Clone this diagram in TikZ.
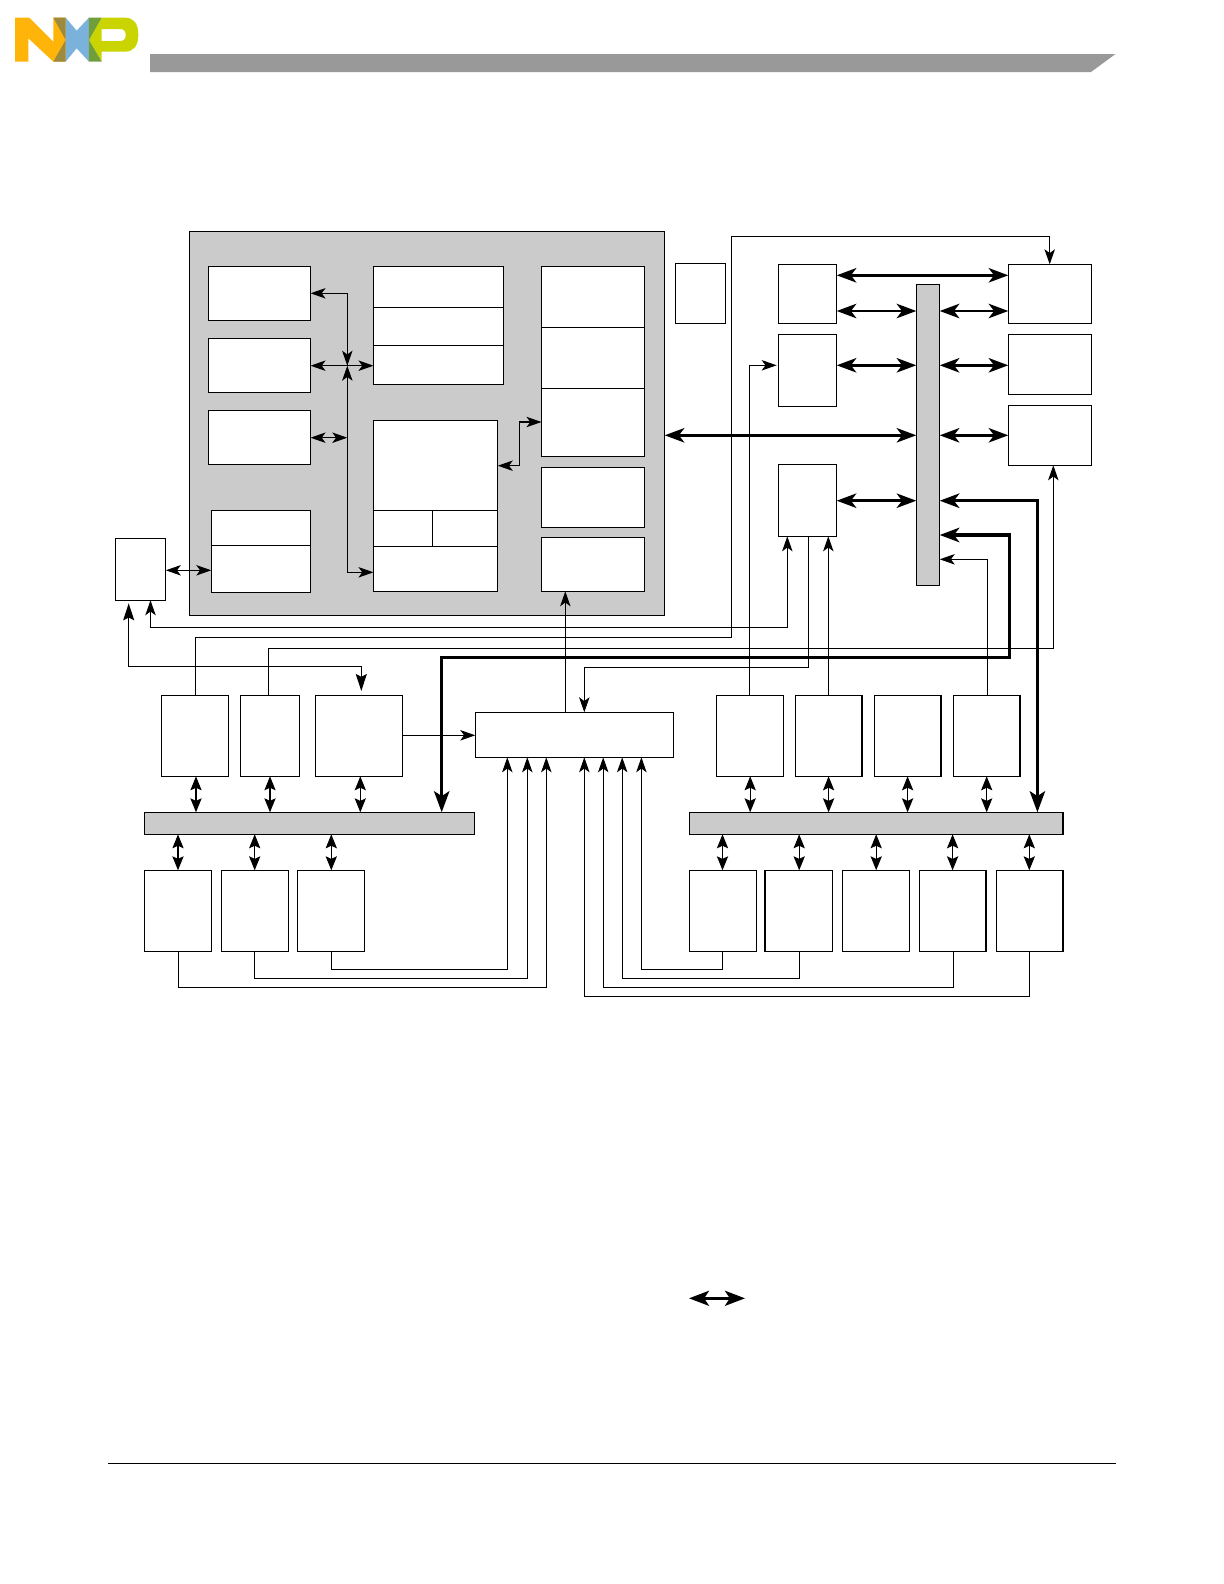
\documentclass[tikz,border=0pt]{standalone}
\usetikzlibrary{arrows.meta}
\definecolor{panelgrey}{HTML}{CBCBCB}
\definecolor{bargrey}{HTML}{999999}
\definecolor{nxpy}{HTML}{FFB40A}
\definecolor{nxpo}{HTML}{9C8A3E}
\definecolor{nxpb}{HTML}{7BB2DC}
\definecolor{nxpg}{HTML}{6F9E3A}
\definecolor{nxpl}{HTML}{C9D400}
\tikzset{
  tipS/.tip={Stealth[length=7.5bp,width=5.2bp,inset=1.9bp]},
  tipV/.tip={Stealth[length=7bp,width=5.6bp,inset=1.3bp]},
  tipB/.tip={Stealth[length=9.8bp,width=7.2bp,inset=2.7bp]},
  tipC/.tip={Stealth[length=10.5bp,width=7.6bp,inset=2.4bp]},
  tipH/.tip={Stealth[length=8.5bp,width=5.5bp,inset=1.4bp]},
  box/.style={draw=black,fill=white,line width=0.55bp,inner sep=0pt,outer sep=0pt},
  greybox/.style={box,fill=panelgrey},
  thinln/.style={line width=0.55bp,draw=black},
  thickln/.style={line width=1.45bp,draw=black},
  heavyln/.style={line width=1.75bp,draw=black},
  twoS/.style={thinln,{tipS}-{tipS}},
  oneS/.style={thinln,-{tipS}},
  twoV/.style={thinln,{tipV}-{tipV}},
  twoB/.style={thickln,{tipB}-{tipB}},
  twoC/.style={heavyln,{tipB}-{tipC}}
}
\newcommand{\bx}[6][box]{%
  \pgfmathsetmacro\bxcx{(#3+#5)/2}\pgfmathsetmacro\bxcy{(#4+#6)/2}%
  \pgfmathsetmacro\bxw{(#5-#3)*0.5}\pgfmathsetmacro\bxh{(#6-#4)*0.5}%
  \node[#1,minimum width=\bxw bp,minimum height=\bxh bp] (#2) at (\bxcx,\bxcy) {};}
\begin{document}
\begin{tikzpicture}[x=0.5bp,y=-0.5bp]
\fill[white] (0,0) rectangle (1224,1584);
\useasboundingbox (0,0) rectangle (1224,1584);
% logo
\begin{scope}[shift={(10,10)},x=0.16667bp,y=-0.16667bp]
\fill[nxpy] (15,23)--(58,23)--(130,95)--(130,23)--(167,23)--(167,155)--(130,155)--(55,85)--(55,155)--(15,155)--cycle;
\fill[nxpb] (167,23)--(200,62)--(237,23)--(237,155)--(200,115)--(167,155)--(167,90)--cycle;
\fill[nxpo] (130,23)--(167,23)--(167,90)--cycle;
\fill[nxpo] (130,155)--(167,90)--(167,155)--cycle;
\fill[nxpl,even odd rule] (237,90)--(275,23)--(345,23).. controls (372,23) and (385,42) .. (385,74).. controls (385,106) and (372,125) .. (345,125)--(275,125)--(275,155)--cycle
  (275,57)--(330,57).. controls (342,57) and (347,64) .. (347,75).. controls (347,87) and (342,93) .. (330,93)--(275,93)--cycle;
\fill[nxpg] (237,23)--(275,23)--(237,90)--cycle;
\fill[nxpg] (237,90)--(275,155)--(237,155)--cycle;
\end{scope}
% header and footer
\fill[bargrey] (150,54)--(1115.5,54)--(1091,72)--(150,72)--cycle;
\draw[line width=0.5bp,draw=black] (108,1463.4)--(1116,1463.4);
% main panel
\bx[greybox]{panel}{189.5}{231.3}{664.7}{615.7}
\bx{Lone}{208.4}{266.3}{310.5}{320.3}
\bx{Ltwo}{208.4}{338.3}{310.5}{392.3}
\bx{Lthree}{208.4}{410.3}{310.5}{464.3}
\bx{Lfoura}{211.3}{510.3}{310.5}{545.3}
\bx{Lfourb}{211.3}{545.3}{310.5}{592.3}
\bx{Ma}{373.5}{266.3}{503.6}{307.3}
\bx{Mb}{373.5}{307.3}{503.6}{345.3}
\bx{Mc}{373.5}{345.3}{503.6}{384.3}
\bx{Na}{373.5}{420.3}{497.8}{510.3}
\bx{Nb}{373.5}{510.3}{432.4}{546.3}
\bx{Nc}{432.4}{510.3}{497.8}{546.3}
\bx{Nd}{373.5}{546.3}{497.8}{591.3}
\bx{Ra}{541.5}{266.3}{644.7}{327.3}
\bx{Rb}{541.5}{327.3}{644.7}{388.3}
\bx{Rc}{541.5}{388.3}{644.7}{456.3}
\bx{Rd}{541.5}{467.3}{644.7}{527.3}
\bx{Re}{541.5}{537.3}{644.7}{591.3}
\bx{small}{115.3}{538.3}{165.8}{600.3}
% upper right
\bx{Aone}{675.3}{263.3}{725.7}{323.3}
\bx{Bone}{778.3}{264.3}{836.7}{323.3}
\bx{Btwo}{778.3}{334.3}{836.7}{406.3}
\bx{Bthree}{778.3}{464.3}{836.7}{536.3}
\bx[greybox]{vbus}{916.3}{284.3}{939.7}{585.3}
\bx{Cone}{1008.3}{264.3}{1091.7}{323.3}
\bx{Ctwo}{1008.3}{334.3}{1091.7}{394.3}
\bx{Cthree}{1008.3}{405.3}{1091.7}{465.3}
% lower rows
\bx{Pone}{161.3}{695.3}{228.3}{776.3}
\bx{Ptwo}{240.3}{695.3}{299.3}{776.3}
\bx{Pthree}{315.3}{695.3}{402.3}{776.3}
\bx{wide}{475.3}{712.3}{673.5}{757.3}
\bx{Sone}{716.4}{695.3}{783.3}{776.3}
\bx{Stwo}{795.1}{695.3}{862}{776.3}
\bx{Sthree}{874.2}{695.3}{941}{776.3}
\bx{Sfour}{953.2}{695.3}{1020}{776.3}
\bx[greybox]{busL}{144.3}{812.3}{474.7}{834.3}
\bx[greybox]{busR}{689.4}{812.3}{1063}{834.3}
\bx{Qone}{144.3}{870.3}{211.3}{951.3}
\bx{Qtwo}{221.3}{870.3}{288.3}{951.3}
\bx{Qthree}{297.3}{870.3}{364.3}{951.3}
\bx{Tone}{689.4}{870.3}{756.3}{951.3}
\bx{Ttwo}{765}{870.3}{832.3}{951.3}
\bx{Tthree}{842.1}{870.3}{909.3}{951.3}
\bx{Tfour}{919.1}{870.3}{986}{951.3}
\bx{Tfive}{996.1}{870.3}{1063}{951.3}
% connectors inside the panel
\coordinate (jv) at (347.3,365.7);
\draw[oneS] (jv) |- (Lone.east |- 0,293.3);
\draw[oneS] (jv |- 0,293.3) -- (jv);
\draw[twoS] (Ltwo.east |- jv) -- (Mc.west |- jv);
\draw[twoS] (Nd.west |- 0,572.3) -| (jv);
\draw[twoS] (Lthree.east |- 0,437.7) -- (jv |- 0,437.7);
\draw[twoS] (Na.east |- 0,465.7) -- (519.6,465.7) -- (519.6,422) -- (Rc.west |- 0,422);
\draw[twoS] (small.east |- 0,570.3) -- (Lfourb.west |- 0,570.3);
\draw[oneS] (wide.north -| 565.3,0) -- (Re.south -| 565.3,0);
% thin routes
\draw[oneS] (Pone.north -| 195.3,0) -- (195.3,637.3) -- (731.3,637.3) -- (731.3,236.3) -- (1049.7,236.3) -- (Cone.north -| 1049.7,0);
\draw[oneS] (Ptwo.north -| 268.3,0) -- (268.3,648.3) -- (1053.3,648.3) -- (Cthree.south -| 1053.3,0);
\draw[oneS] (Sone.north -| 749.3,0) -- (749.3,365.3) -- (776.7,365.3);
\draw[oneS] (Stwo.north -| 828.3,0) -- (Bthree.south -| 828.3,0);
\draw[oneS] (Sfour.north -| 987.3,0) -- (987.3,559.3) -- (vbus.east |- 0,559.3);
\draw[twoS] (small.south -| 150.5,0) -- (150.5,627.3) -- (787.3,627.3) -- (Bthree.south -| 787.3,0);
\draw[oneS] (Bthree.south -| 808.3,0) -- (808.3,667.3) -- (584.3,667.3) -- (wide.north -| 584.3,0);
\draw[thinln,{tipH}-{tipH}] (128.7,603.3) -- (128.7,666.3) -- (361.3,666.3) -- (361.3,691);
\draw[oneS] (Pthree.east |- 0,735.3) -- (wide.west |- 0,735.3);
% bus stubs
\foreach \nm/\xx in {Pone/196,Ptwo/270,Pthree/360.3}
  \draw[twoV] (\nm.south -| \xx,0) -- (busL.north -| \xx,0);
\foreach \nm/\xx in {Qone/178,Qtwo/254.7,Qthree/331.3}
  \draw[twoV] (busL.south -| \xx,0) -- (\nm.north -| \xx,0);
\foreach \nm/\xx in {Sone/750.2,Stwo/828.6,Sthree/907.6,Sfour/986.7}
  \draw[twoV] (\nm.south -| \xx,0) -- (busR.north -| \xx,0);
\foreach \nm/\xx in {Tone/722.5,Ttwo/799.2,Tthree/876.2,Tfour/952.6,Tfive/1029.3}
  \draw[twoV] (busR.south -| \xx,0) -- (\nm.north -| \xx,0);
% returns to the wide box
\draw[oneS] (Qthree.south -| 331.3,0) -- (331.3,969.3) -- (507.3,969.3) -- (wide.south -| 507.3,0);
\draw[oneS] (Qtwo.south -| 254.7,0) -- (254.7,978.3) -- (527.3,978.3) -- (wide.south -| 527.3,0);
\draw[oneS] (Qone.south -| 178.3,0) -- (178.3,987.3) -- (546.3,987.3) -- (wide.south -| 546.3,0);
\draw[oneS] (Tone.south -| 722.5,0) -- (722.5,969.3) -- (641.4,969.3) -- (wide.south -| 641.4,0);
\draw[oneS] (Ttwo.south -| 799.2,0) -- (799.2,978.3) -- (622.2,978.3) -- (wide.south -| 622.2,0);
\draw[oneS] (Tfour.south -| 953.2,0) -- (953.2,987.3) -- (603.2,987.3) -- (wide.south -| 603.2,0);
\draw[oneS] (Tfive.south -| 1029.3,0) -- (1029.3,996.3) -- (584.3,996.3) -- (wide.south -| 584.3,0);
% thick connectors
\draw[twoB] (Bone.east |- 0,275.3) -- (Cone.west |- 0,275.3);
\draw[twoB] (Bone.east |- 0,311) -- (vbus.west |- 0,311);
\draw[twoB] (vbus.east |- 0,311) -- (Cone.west |- 0,311);
\draw[twoB] (Btwo.east |- 0,365.3) -- (vbus.west |- 0,365.3);
\draw[twoB] (vbus.east |- 0,365.3) -- (Ctwo.west |- 0,365.3);
\draw[twoB] (panel.east |- 0,435.3) -- (vbus.west |- 0,435.3);
\draw[twoB] (vbus.east |- 0,435.3) -- (Cthree.west |- 0,435.3);
\draw[twoB] (Bthree.east |- 0,500.7) -- (vbus.west |- 0,500.7);
\draw[twoC] (vbus.east |- 0,500.7) -- (1037.4,500.7) -- (busR.north -| 1037.4,0);
\draw[twoC] (vbus.east |- 0,535) -- (1009.3,535) -- (1009.3,657.3) -- (441.7,657.3) -- (busL.north -| 441.7,0);
% legend
\coordinate (lgA) at (689,1298.3);
\coordinate (lgB) at (745,1298.3);
\draw[thickln,{Stealth[length=10bp,width=7.5bp,inset=2.4bp]}-{Stealth[length=10bp,width=7.5bp,inset=2.4bp]}] (lgA) -- (lgB);
\end{tikzpicture}
\end{document}
